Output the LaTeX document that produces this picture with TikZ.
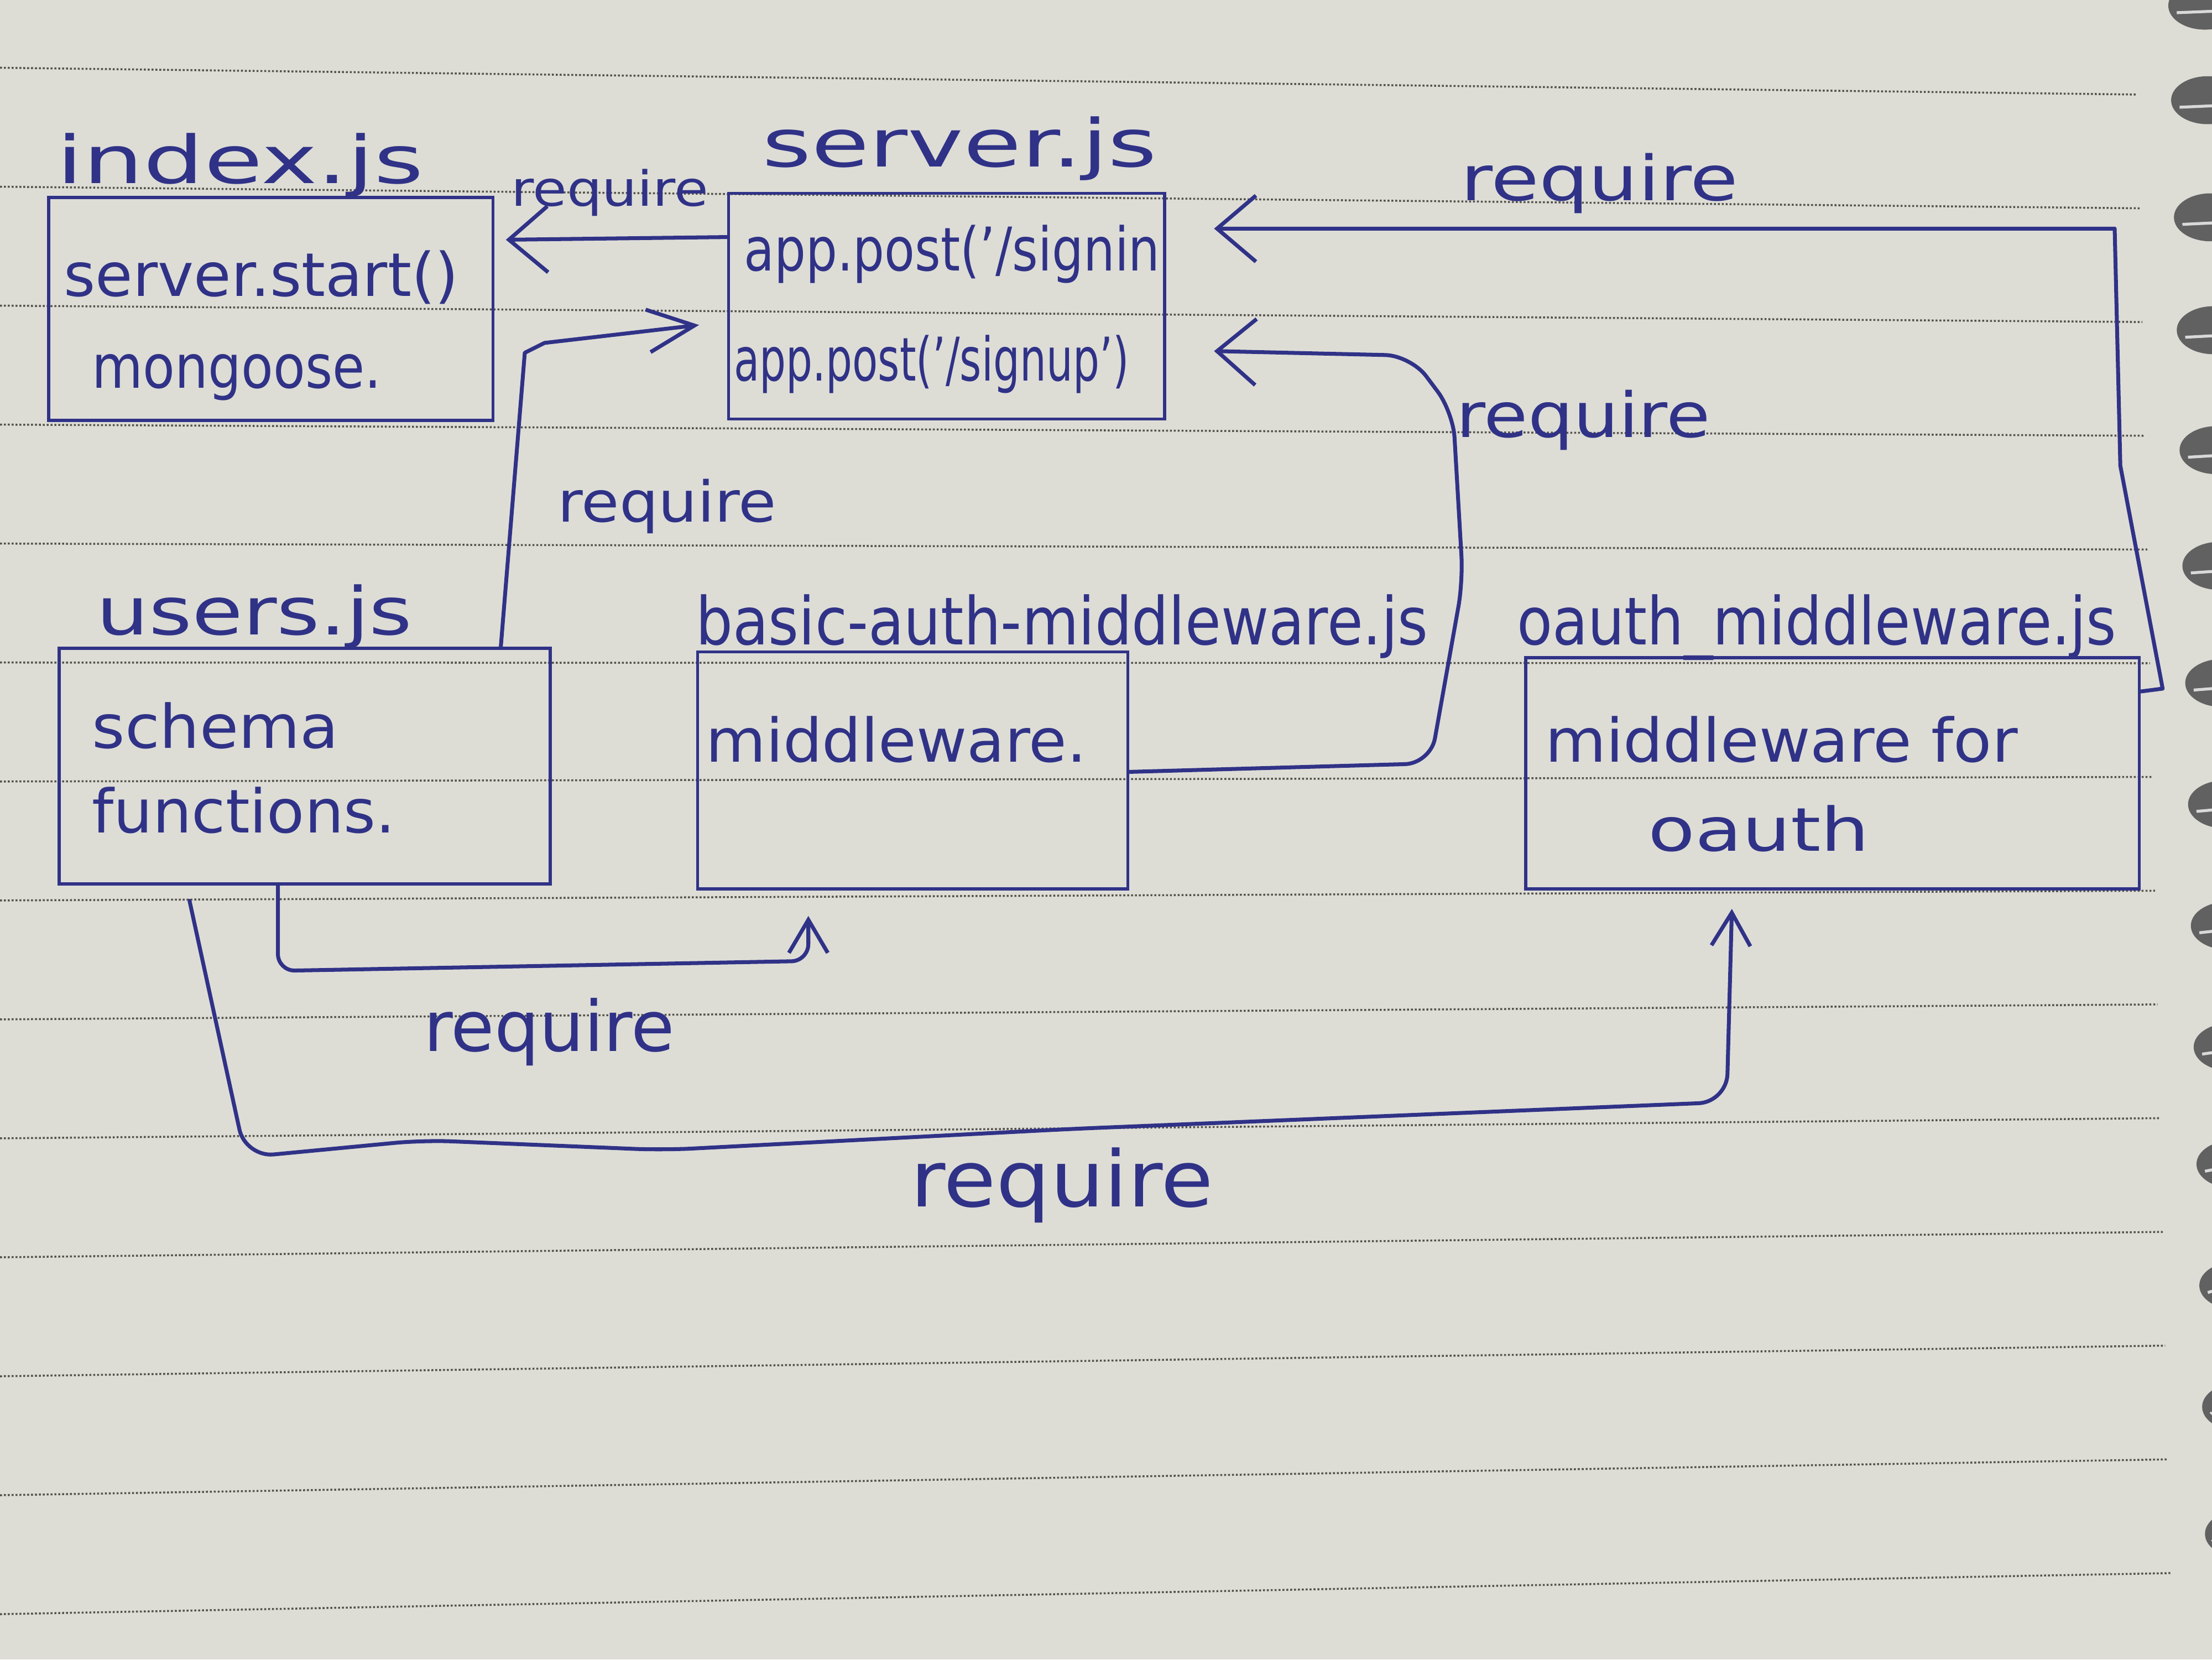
\documentclass[tikz,border=0pt]{standalone}
\usepackage{fontspec}
\setmainfont{DejaVu Sans}
\usepackage{graphicx}
\usetikzlibrary{arrows.meta}

\definecolor{paper}{RGB}{221,221,214}
\definecolor{ink}{RGB}{48,50,135}
\definecolor{ruling}{RGB}{85,82,76}

\newdimen\hwunit \hwunit=0.02551cm
\newcommand{\hw}[2]{\resizebox{#1\hwunit}{\height}{#2}}

\tikzset{
  box/.style={draw=ink, line width=1.6pt, inner sep=0pt},
  fname/.style={text=ink, anchor=base west, inner sep=0pt, font=\fontsize{34}{40}\selectfont},
  btext/.style={text=ink, anchor=base west, inner sep=0pt, font=\fontsize{31}{36}\selectfont},
  reqtext/.style={text=ink, anchor=base west, inner sep=0pt, font=\fontsize{32}{36}\selectfont},
  req/.style={ink, line width=2pt, line cap=round, line join=round},
  bigtip/.style={-{Straight Barb[length=20pt,width=34pt]}},
  midtip/.style={-{Straight Barb[length=24pt,width=22pt]}},
  smalltip/.style={-{Straight Barb[length=17pt,width=20pt]}},
  ruleline/.style={ruling, line width=1pt, dash pattern=on 1pt off 1pt},
  ring/.style={fill=black!62}
}

\begin{document}
\begin{tikzpicture}[x=0.02551cm, y=-0.02551cm]
\useasboundingbox (0,0) rectangle (1568,1176);
\clip (0,0) rectangle (1568,1176);
\fill[paper] (0,0) rectangle (1568,1176);

\foreach \k in {0,...,13}
  \draw[ruleline] (0,{48+84.3*\k}) -- ({1515+1.8*\k},{67+80.6*\k});

\foreach \y [count=\k] in {4,71,154,234,319,401,484,570,656,742,825,911,997,1087} {
  \fill[ring] ({1561+2*\k},\y) ellipse [x radius=26\hwunit, y radius=17\hwunit];
  \draw[white!70!gray, line width=1.5pt] ({1541+2*\k},\y+5) -- (1568,\y+4);
}

% files
\node[box, minimum width=315\hwunit, minimum height=158\hwunit] (b_index) at (192,219) {};
\node[box, minimum width=309\hwunit, minimum height=160\hwunit] (b_server) at (671,217) {};
\node[box, minimum width=348\hwunit, minimum height=167\hwunit] (b_users) at (216,543) {};
\node[box, minimum width=305\hwunit, minimum height=168\hwunit] (b_basic) at (647,546) {};
\node[box, minimum width=435\hwunit, minimum height=164\hwunit] (b_oauth) at (1299,548) {};

\node[fname] (t_index) at (40,130) {\hw{260}{index.js}};
\node[fname] (t_server) at (540,118) {\hw{280}{server.js}};
\node[fname] (t_users) at (68,450) {\hw{224}{users.js}};
\node[fname] (t_basic) at (493,457) {\hw{519}{basic-auth-middleware.js}};
\node[fname] (t_oauth) at (1075,457) {\hw{425}{oauth\_middleware.js}};

\node[btext] (c_start) at (45,210) {\hw{280}{server.start()}};
\node[btext] (c_mongoose) at (65,275) {\hw{205}{mongoose.}};
\node[btext] (c_signin) at (527,192) {\hw{295}{app.post('/signin}};
\node[btext] (c_signup) at (520,270) {\hw{280}{app.post('/signup')}};
\node[btext] (c_schema) at (65,530) {\hw{175}{schema}};
\node[btext] (c_functions) at (65,590) {\hw{215}{functions.}};
\node[btext] (c_mw) at (500,540) {\hw{270}{middleware.}};
\node[btext] (c_mwfor) at (1095,540) {\hw{335}{middleware for}};
\node[btext] (c_oauth) at (1168,603) {\hw{157}{oauth}};

% require arrows
\draw[req, bigtip, shorten >=8\hwunit] (b_server.west |- 0,168) -- (b_index.east |- 0,170);
\node[reqtext, font=\fontsize{25}{30}\selectfont] (r_index) at (362,146) {\hw{140}{require}};

\draw[req, midtip, shorten >=20\hwunit] (b_users.north -| 355,0) -- (372,250) -- (386,243) -- (b_server.west |- 0,228);
\node[reqtext, font=\fontsize{29}{34}\selectfont] (r_users) at (395,370) {\hw{155}{require}};

\draw[req, bigtip, shorten >=34\hwunit] (b_oauth.east |- 0,490) -- (1533,488) -- (1503,330) -- (1499,162) -- (b_server.east |- 0,162);
\node[reqtext] (r_oauth) at (1035,142) {\hw{197}{require}};

\draw[req, bigtip, rounded corners=18\hwunit, shorten >=34\hwunit] (b_basic.east |- 0,547) -- (1014,541) -- (1037,412) -- (1030,292) -- (1000,252) -- (b_server.east |- 0,248);
\node[reqtext] (r_basic) at (1032,310) {\hw{180}{require}};

\draw[req, smalltip, rounded corners=12\hwunit, shorten >=18\hwunit] (b_users.south -| 197,0) -- (197,688) -- (573,681) -- (b_basic.south -| 573,0);
\node[reqtext, font=\fontsize{36}{40}\selectfont] (r_ub) at (300,745) {\hw{178}{require}};

\draw[req, smalltip, rounded corners=20\hwunit, shorten <=11\hwunit, shorten >=13\hwunit] (b_users.south -| 132,0) -- (174,820) -- (300,808) -- (470,815) -- (760,800) -- (1224,781) -- (b_oauth.south -| 1228,0);
\node[reqtext, font=\fontsize{40}{44}\selectfont] (r_uo) at (645,855) {\hw{215}{require}};
\end{tikzpicture}
\end{document}
